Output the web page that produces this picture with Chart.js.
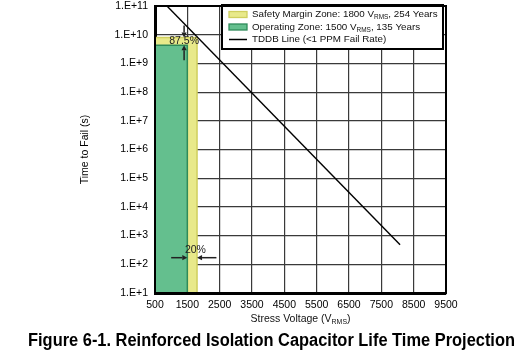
<!DOCTYPE html>
<html><head><meta charset="utf-8">
<script src="https://cdn.jsdelivr.net/npm/chart.js@4.4.1/dist/chart.umd.min.js"></script>
<style>html,body{margin:0;padding:0;background:#fff}#wrap{width:528px;height:355px}</style>
</head><body><div id="wrap"><canvas id="c" width="528" height="355"></canvas></div>
<script>
const FONT = '"Liberation Sans", Arial, Helvetica, sans-serif';

// ---- data ----
const xTickValues = [500, 1500, 2500, 3500, 4500, 5500, 6500, 7500, 8500, 9500];
const yTickValues = [1e1, 1e2, 1e3, 1e4, 1e5, 1e6, 1e7, 1e8, 1e9, 1e10, 1e11];
const yTickLabels = ['1.E+1', '1.E+2', '1.E+3', '1.E+4', '1.E+5', '1.E+6', '1.E+7', '1.E+8', '1.E+9', '1.E+10', '1.E+11'];

const safetyVoltage = [500, 500, 1800, 1800];
const safetyTime = [10, 8.0e9, 8.0e9, 10];
const operatingVoltage = [500, 500, 1500, 1500];
const operatingTime = [10, 4.3e9, 4.3e9, 10];
const tddbVoltage = [870, 8080];
const tddbTime = [1e11, 480];

const legendParts = [
  ['Safety Margin Zone: 1800 V', 'RMS', ', 254 Years'],
  ['Operating Zone: 1500 V', 'RMS', ', 135 Years'],
  ['TDDB Line (<1 PPM Fail Rate)', '', '']
];
const figureTitle = 'Figure 6-1. Reinforced Isolation Capacitor Life Time Projection';
const xTitleParts = ['Stress Voltage (V', 'RMS', ')'];

const toPts = (xs, ys) => xs.map((x, i) => ({x: x, y: ys[i]}));

function drawSubText(ctx, parts, x, y, size, align) {
  ctx.textBaseline = 'middle';
  ctx.font = size + 'px ' + FONT;
  const w0 = ctx.measureText(parts[0]).width;
  const w2 = ctx.measureText(parts[2]).width;
  ctx.font = (size * 0.66) + 'px ' + FONT;
  const w1 = ctx.measureText(parts[1]).width;
  const total = w0 + w1 + w2;
  let cx = align === 'center' ? x - total / 2 : x;
  ctx.textAlign = 'left';
  ctx.font = size + 'px ' + FONT;
  ctx.fillText(parts[0], cx, y); cx += w0;
  ctx.font = (size * 0.66) + 'px ' + FONT;
  ctx.fillText(parts[1], cx, y + size * 0.28); cx += w1;
  ctx.font = size + 'px ' + FONT;
  ctx.fillText(parts[2], cx, y);
}

function arrow(ctx, x1, y1, x2, y2) {
  const a = Math.atan2(y2 - y1, x2 - x1), L = 5, W = 2.6;
  ctx.beginPath(); ctx.moveTo(x1, y1); ctx.lineTo(x2 - Math.cos(a) * L, y2 - Math.sin(a) * L); ctx.stroke();
  ctx.beginPath();
  ctx.moveTo(x2, y2);
  ctx.lineTo(x2 - Math.cos(a) * L - Math.sin(a) * W, y2 - Math.sin(a) * L + Math.cos(a) * W);
  ctx.lineTo(x2 - Math.cos(a) * L + Math.sin(a) * W, y2 - Math.sin(a) * L - Math.cos(a) * W);
  ctx.closePath(); ctx.fill();
}

const overlay = {
  id: 'overlay',
  afterDatasetsDraw(chart) {
    const ctx = chart.ctx, xs = chart.scales.x, ys = chart.scales.y, ca = chart.chartArea;
    ctx.save();
    // annotations
    ctx.strokeStyle = '#222'; ctx.fillStyle = '#222'; ctx.lineWidth = 1.5;
    const ax = xs.getPixelForValue(1400);
    arrow(ctx, ax, ys.getPixelForValue(2.1e10), ax, ys.getPixelForValue(safetyTime[1]));
    arrow(ctx, ax, ys.getPixelForValue(1.3e9), ax, ys.getPixelForValue(operatingTime[1]));
    ctx.font = '10.5px ' + FONT; ctx.textAlign = 'center'; ctx.textBaseline = 'middle';
    ctx.fillText('87.5%', xs.getPixelForValue(1400), ys.getPixelForValue(6.0e9));
    const ay = ys.getPixelForValue(170);
    arrow(ctx, xs.getPixelForValue(1000), ay, xs.getPixelForValue(operatingVoltage[2]), ay);
    arrow(ctx, xs.getPixelForValue(2400), ay, xs.getPixelForValue(safetyVoltage[2]), ay);
    ctx.fillText('20%', xs.getPixelForValue(1750), ys.getPixelForValue(300));

    // legend
    const lw = 221, lh = 44, lx = ca.right - 3 - lw, ly = ca.top - 1;
    ctx.fillStyle = '#fff'; ctx.fillRect(lx, ly, lw, lh);
    ctx.strokeStyle = '#000'; ctx.lineWidth = 2; ctx.strokeRect(lx, ly, lw, lh);
    const ds = chart.data.datasets;
    const rowY = [ly + 9.5, ly + 22, ly + 34.5];
    const sx = lx + 7, sw = 18;
    [0, 1, 2].forEach((k, i) => {
      const d = ds[k];
      if (k < 2) {
        ctx.fillStyle = d.backgroundColor; ctx.strokeStyle = d.borderColor; ctx.lineWidth = 1.3;
        ctx.fillRect(sx, rowY[i] - 3, sw, 6); ctx.strokeRect(sx, rowY[i] - 3, sw, 6);
      } else {
        ctx.strokeStyle = d.borderColor; ctx.lineWidth = 1.5;
        ctx.beginPath(); ctx.moveTo(sx, rowY[i]); ctx.lineTo(sx + sw, rowY[i]); ctx.stroke();
      }
      ctx.fillStyle = '#111';
      drawSubText(ctx, legendParts[i], lx + 30, rowY[i], 9.8, 'left');
    });
    ctx.restore();
  },
  afterDraw(chart) {
    const ctx = chart.ctx, ca = chart.chartArea;
    ctx.save();
    ctx.strokeStyle = '#000'; ctx.lineWidth = 2;
    ctx.strokeRect(ca.left, ca.top, ca.right - ca.left, ca.bottom - ca.top);
    ctx.fillStyle = '#111';
    drawSubText(ctx, xTitleParts, (ca.left + ca.right) / 2, 319, 10.5, 'center');
    ctx.fillStyle = '#000';
    ctx.font = 'bold 18px ' + FONT; ctx.textAlign = 'center'; ctx.textBaseline = 'middle';
    const tw = ctx.measureText(figureTitle).width;
    ctx.translate(271.5, 341);
    ctx.scale(487 / tw, 1);
    ctx.fillText(figureTitle, 0, 0);
    ctx.restore();
  }
};

new Chart(document.getElementById('c'), {
  type: 'line',
  data: {
    datasets: [
      {label: 'Safety Margin Zone', data: toPts(safetyVoltage, safetyTime), backgroundColor: '#e8e98a', borderColor: '#cfcf5e', borderWidth: 1.5, fill: 'start', pointRadius: 0, order: 2, tension: 0},
      {label: 'Operating Zone', data: toPts(operatingVoltage, operatingTime), backgroundColor: '#64bf8e', borderColor: '#2f8a5a', borderWidth: 1.5, fill: 'start', pointRadius: 0, order: 1, tension: 0},
      {label: 'TDDB Line', data: toPts(tddbVoltage, tddbTime), borderColor: '#000', borderWidth: 1.4, fill: false, pointRadius: 0, order: 0, tension: 0}
    ]
  },
  options: {
    responsive: false, animation: false, devicePixelRatio: 1,
    layout: {padding: {left: 75, right: 82, top: 6, bottom: 28}},
    plugins: {legend: {display: false}, tooltip: {enabled: false}, title: {display: false}},
    scales: {
      x: {
        type: 'linear', min: 500, max: 9500,
        afterBuildTicks: s => { s.ticks = xTickValues.map(v => ({value: v})); },
        afterFit: s => { s.height = 34; s.paddingLeft = 0; s.paddingRight = 0; },
        ticks: {color: '#000', font: {family: FONT, size: 10.5}, padding: 6, maxRotation: 0, autoSkip: false, callback: v => String(v)},
        grid: {color: '#3a3a3a', lineWidth: 1.2, drawTicks: false},
        border: {color: '#000', width: 3}
      },
      y: {
        type: 'logarithmic', min: 10, max: 1e11,
        afterBuildTicks: s => { s.ticks = yTickValues.map(v => ({value: v})); },
        afterFit: s => { s.width = 80; s.paddingTop = 0; s.paddingBottom = 0; },
        ticks: {color: '#000', font: {family: FONT, size: 10.5}, padding: 7, autoSkip: false,
          callback: (v, i) => yTickLabels[i]},
        grid: {color: '#3a3a3a', lineWidth: 1.2, drawTicks: false},
        border: {color: '#000', width: 3},
        title: {display: true, text: 'Time to Fail (s)', color: '#000', font: {family: FONT, size: 10.5}, padding: {top: 4, bottom: 0}}
      }
    }
  },
  plugins: [overlay]
});
</script></body></html>
